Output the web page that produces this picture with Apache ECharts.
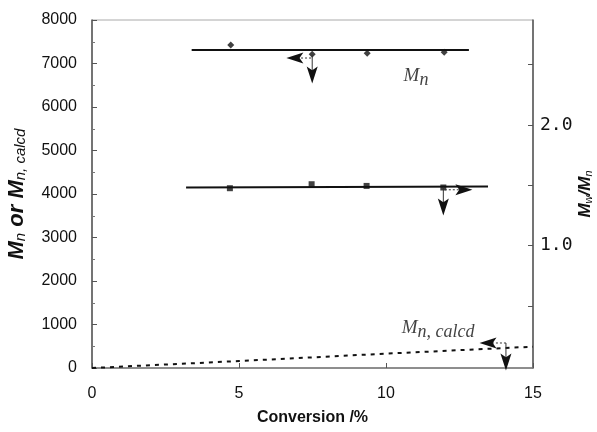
<!DOCTYPE html>
<html><head><meta charset="utf-8">
<script src="https://cdn.jsdelivr.net/npm/echarts@6/dist/echarts.min.js"></script>
<style>html,body{margin:0;padding:0;background:#fff}#c{width:597px;height:432px}</style>
</head><body><div id="c"></div>
<script>
// Data
const mnPoints = [[4.72, 7425], [7.49, 7210], [9.36, 7234], [11.98, 7257]];
const mnFitLine = [[3.39, 7310], [12.82, 7310]];
const pdiPoints = [[4.69, 1.475], [7.47, 1.508], [9.34, 1.494], [11.95, 1.481]];
const pdiFitLine = [[3.2, 1.48], [13.47, 1.49]];
const mnCalcd = [[0, 0], [5, 160], [10, 330], [15, 490]];
const xTicks = [0, 5, 10, 15];
const leftTicks = [0, 1000, 2000, 3000, 4000, 5000, 6000, 7000, 8000];
const rightTickValues = [0.5, 1.0, 1.5, 2.0, 2.5];
const rightLabelValues = [1.0, 2.0];
// Axis-indicator arrows (data units): shafts and heads [x, y, rotation]
const leftShaftsDotted = [[7.45, 7126], [6.95, 7126], '-', [14.08, 575], [13.5, 575]];
const leftShaftsSolid = [[7.49, 7200], [7.49, 6760], '-', [14.08, 575], [14.08, 150]];
const leftHeads = [[6.9, 7126, 90], [7.49, 6736, 180], [13.47, 575, 90], [14.08, 138, 180]];
const rightShaftsDotted = [[12.0, 1.462], [12.6, 1.462]];
const rightShaftsSolid = [[11.95, 1.48], [11.95, 1.34]];
const rightHeads = [[12.65, 1.462, -90], [11.95, 1.32, 180]];

const chart = echarts.init(document.getElementById('c'));
const black = '#111';
const arrowPath = 'path://M6,0 L12,18 L6,14 L0,18 Z';
const mainM = {fontFamily: 'Liberation Serif', fontStyle: 'italic', fontSize: 19, color: black};
const sub = {fontFamily: 'Liberation Serif', fontStyle: 'italic', fontSize: 18, color: black, padding: [8, 0, 0, 0]};
function heads(arr, yIdx) {
  return {type: 'scatter', yAxisIndex: yIdx, symbol: arrowPath, symbolSize: [11, 17], silent: true, z: 5, clip: false,
    itemStyle: {color: black, opacity: 1},
    data: arr.map(a => ({value: [a[0], a[1]], symbolRotate: a[2]}))};
}
function shafts(arr, yIdx, dotted) {
  return {type: 'line', yAxisIndex: yIdx, data: arr, symbol: 'none', silent: true, z: 4, clip: false,
    lineStyle: {color: '#333', width: 1, type: dotted ? [2, 2] : 'solid'}};
}
chart.setOption({
  animation: false,
  grid: {left: 92, right: 64, top: 20, bottom: 64, show: true, borderColor: '#aaa', borderWidth: 1,
    containLabel: false, outerBoundsMode: 'none'},
  xAxis: {
    type: 'value', min: 0, max: 15, interval: 5,
    name: 'Conversion /%', nameLocation: 'middle', nameGap: 42,
    nameTextStyle: {fontFamily: 'Liberation Sans', fontWeight: 'bold', fontSize: 16, color: black},
    axisLine: {lineStyle: {color: '#777', width: 1.5}},
    axisTick: {inside: true, length: 5, lineStyle: {color: '#555'}},
    axisLabel: {margin: 18, fontFamily: 'Liberation Sans', fontSize: 16, color: black,
      formatter: v => xTicks.includes(v) ? String(v) : ''},
    splitLine: {show: false}
  },
  yAxis: [{
    type: 'value', min: 0, max: 8000, interval: 1000,
    name: '{b|M}{s|n}{b| or M}{s|n, calcd}', nameLocation: 'middle', nameGap: 64, nameRotate: 90,
    nameMoveOverlap: false,
    nameTextStyle: {rich: {
      b: {fontFamily: 'Liberation Sans', fontWeight: 'bold', fontStyle: 'italic', fontSize: 22, color: black},
      s: {fontFamily: 'Liberation Sans', fontStyle: 'italic', fontSize: 15, color: black, padding: [8, 0, 0, 0]}
    }},
    axisLine: {show: true, lineStyle: {color: '#555', width: 1.5}},
    axisTick: {show: true, inside: true, length: 5, lineStyle: {color: '#555'}},
    minorTick: {show: true, splitNumber: 2, length: 3, lineStyle: {color: '#777'}},
    axisLabel: {margin: 15, fontFamily: 'Liberation Sans', fontSize: 16, color: black,
      formatter: v => leftTicks.includes(v) ? String(v) : ''},
    splitLine: {show: false}
  }, {
    type: 'value', min: -0.016, max: 2.87, position: 'right',
    name: '{b|M}{s|w}{b|/M}{s|n}', nameLocation: 'middle', nameGap: 44, nameRotate: 90,
    nameMoveOverlap: false,
    nameTextStyle: {rich: {
      b: {fontFamily: 'Liberation Sans', fontWeight: 'bold', fontStyle: 'italic', fontSize: 17, color: black},
      s: {fontFamily: 'Liberation Sans', fontStyle: 'italic', fontSize: 11, color: black, padding: [6, 0, 0, 0]}
    }},
    axisLine: {show: true, lineStyle: {color: '#555', width: 1.5}},
    axisTick: {show: true, inside: true, length: 5, customValues: rightTickValues, lineStyle: {color: '#555'}},
    axisLabel: {margin: 7, fontFamily: 'DejaVu Sans Mono', fontSize: 18, color: black,
      customValues: rightLabelValues, formatter: v => v.toFixed(1)},
    splitLine: {show: false}
  }],
  series: [
    {type: 'line', data: mnFitLine, symbol: 'none', lineStyle: {color: black, width: 2}, z: 2},
    {type: 'scatter', data: mnPoints, symbol: 'diamond', symbolSize: 7, itemStyle: {color: black}, z: 3},
    {type: 'line', yAxisIndex: 1, data: pdiFitLine, symbol: 'none', lineStyle: {color: black, width: 2}, z: 2},
    {type: 'scatter', yAxisIndex: 1, data: pdiPoints, symbol: 'rect', symbolSize: 6, itemStyle: {color: black}, z: 3},
    {type: 'line', data: mnCalcd, symbol: 'none', lineStyle: {color: black, width: 2, type: [4, 5]}, z: 2},
    shafts(leftShaftsDotted, 0, true),
    shafts(leftShaftsSolid, 0, false),
    heads(leftHeads, 0),
    shafts(rightShaftsDotted, 1, true),
    shafts(rightShaftsSolid, 1, false),
    heads(rightHeads, 1),
    {type: 'scatter', symbolSize: 0, silent: true, z: 6,
      data: [{value: [11.02, 6713], label: {show: true, position: 'inside', formatter: '{m|M}{s|n}', rich: {m: mainM, s: sub}}},
             {value: [11.77, 920], label: {show: true, position: 'inside', formatter: '{m|M}{s|n, calcd}', rich: {m: mainM, s: sub}}}]}
  ]
});
</script></body></html>
